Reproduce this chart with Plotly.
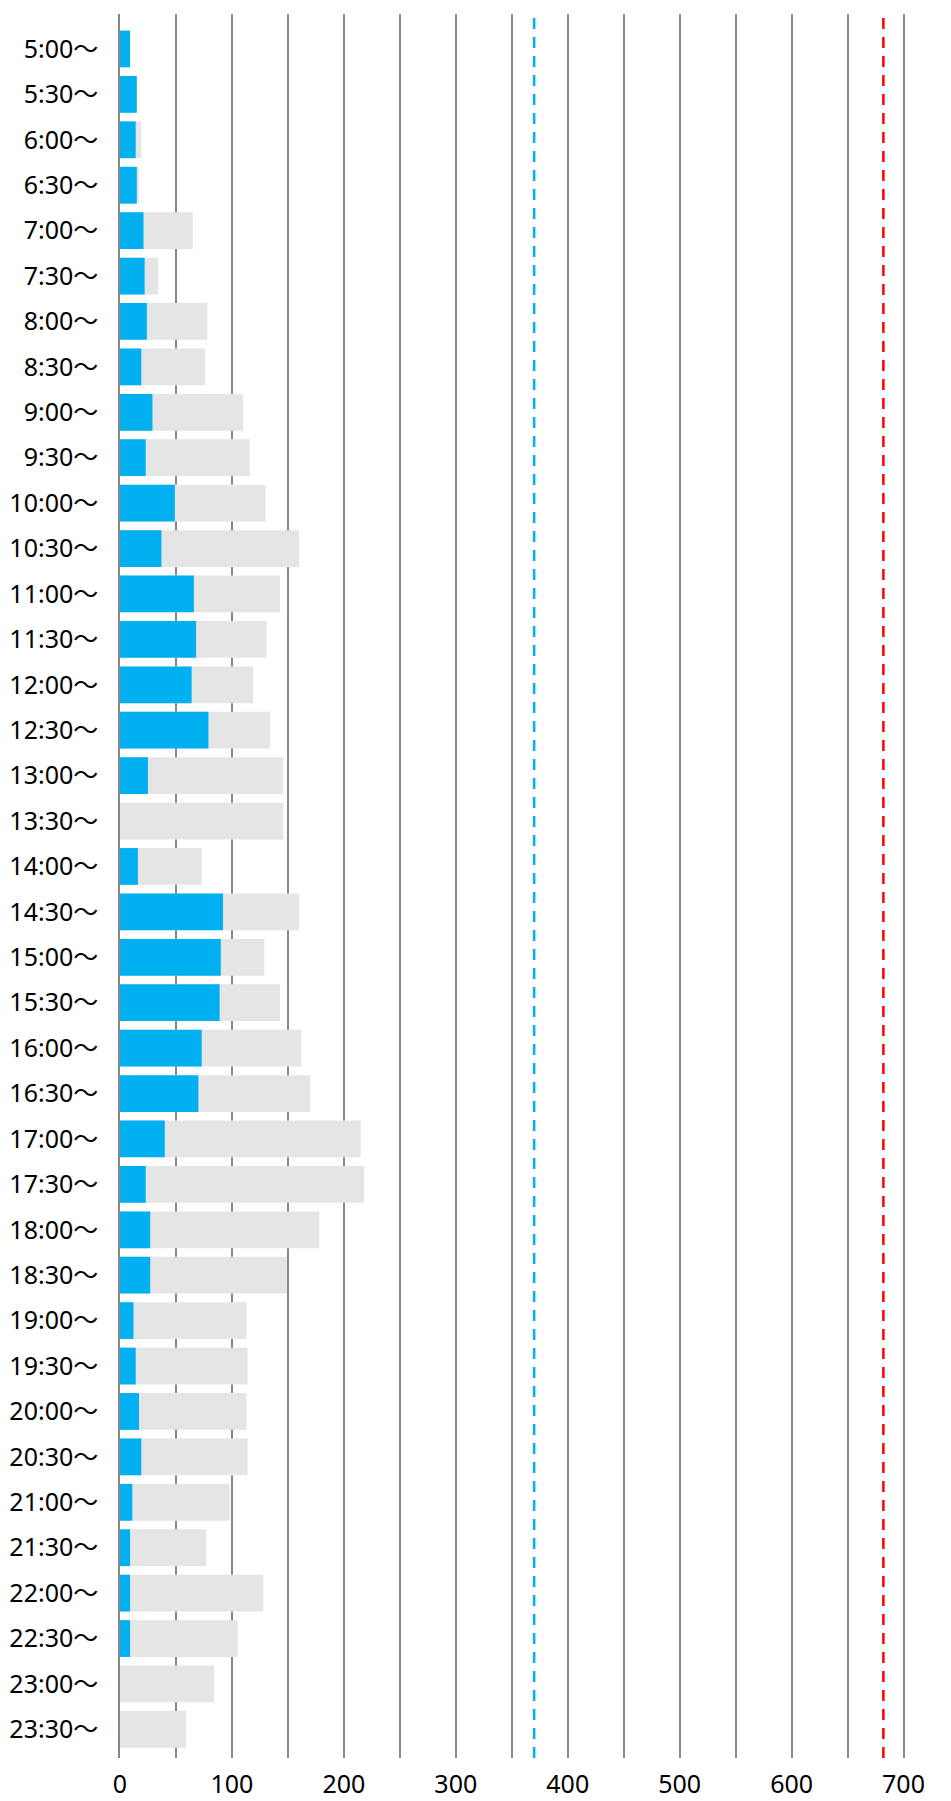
import plotly.graph_objects as go

categories = ["5:00～", "5:30～", "6:00～", "6:30～", "7:00～", "7:30～", "8:00～", "8:30～",
              "9:00～", "9:30～", "10:00～", "10:30～", "11:00～", "11:30～", "12:00～", "12:30～",
              "13:00～", "13:30～", "14:00～", "14:30～", "15:00～", "15:30～", "16:00～", "16:30～",
              "17:00～", "17:30～", "18:00～", "18:30～", "19:00～", "19:30～", "20:00～", "20:30～",
              "21:00～", "21:30～", "22:00～", "22:30～", "23:00～", "23:30～"]

blue_values = [9, 15, 14, 15, 21, 22, 24, 19, 29, 23, 49, 37, 66, 68, 64, 79,
               25, 0, 16, 92, 90, 89, 73, 70, 40, 23, 27, 27, 12, 14, 17, 19,
               11, 9, 9, 9, 0, 0]

gray_values = [0, 0, 19, 17, 65, 34, 78, 76, 110, 116, 130, 160, 143, 131, 119, 134,
               146, 146, 73, 160, 129, 143, 162, 170, 215, 218, 178, 149, 113, 114, 113, 114,
               98, 77, 128, 105, 84, 59]

blue_line_value = 370
red_line_value = 682

x_tickvals = [0, 100, 200, 300, 400, 500, 600, 700]

fig = go.Figure()
fig.add_trace(go.Bar(y=categories, x=gray_values, orientation="h",
                     marker=dict(color="#E5E5E5", line=dict(width=0)), name="total"))
fig.add_trace(go.Bar(y=categories, x=blue_values, orientation="h",
                     marker=dict(color="#00B0F0", line=dict(width=0)), name="blue"))

for val, col in [(blue_line_value, "#00B0F0"), (red_line_value, "#FF0000")]:
    fig.add_shape(type="line", xref="x", yref="paper", x0=val, x1=val, y0=0, y1=1,
                  line=dict(color=col, width=2.5, dash="11px,8px"))

fig.update_layout(
    width=943, height=1793,
    margin=dict(l=112, r=43, t=6, b=43),
    barmode="overlay", bargap=0.19,
    showlegend=False,
    plot_bgcolor="white", paper_bgcolor="white",
    font=dict(family="Noto Sans, Noto Sans CJK JP", color="#000000"),
)
fig.update_xaxes(
    range=[0, 704], tickvals=x_tickvals, ticktext=[str(v) for v in x_tickvals],
    showgrid=True, gridcolor="#888888", gridwidth=1.5,
    minor=dict(dtick=50, tick0=0, showgrid=True, gridcolor="#888888", gridwidth=1.5),
    zeroline=False, showline=False, ticks="", automargin=False,
    tickfont=dict(size=25, family="Noto Sans"), ticklabelstandoff=9,
)
fig.update_yaxes(
    type="category", categoryorder="array", categoryarray=categories,
    range=[37.63, -0.77], showgrid=False, zeroline=False, automargin=False,
    showline=True, linecolor="#888888", linewidth=1.5, ticks="",
    tickfont=dict(size=25, family="Noto Sans, Noto Sans CJK JP"), ticklabelstandoff=15,
)

fig.write_html("out.html")
